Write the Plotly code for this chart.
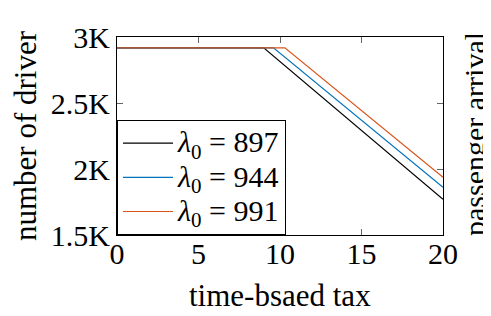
import plotly.graph_objects as go

x_break = [9.0, 9.6, 10.3]
x_end = 20
flat_level = 2918
end_values = [1771, 1862, 1937]
labels = ["897", "944", "991"]
colors = ["#000000", "#0072BD", "#D95319"]

y_ticks = [1500, 2000, 2500, 3000]
y_tick_text = ["1.5K", "2K", "2.5K", "3K"]
x_ticks = [0, 5, 10, 15, 20]

FONT = "Liberation Serif"

fig = go.Figure()
for xb, ye, lab, c in zip(x_break, end_values, labels, colors):
    fig.add_trace(go.Scatter(
        x=[0, xb, x_end], y=[flat_level, flat_level, ye],
        mode="lines", line=dict(color=c, width=1.2),
        name=f'<span style="font-size:30px"><i>λ</i><sub>0</sub> = {lab}</span>'))

axis_common = dict(showgrid=False, zeroline=False, showline=True, linecolor="black",
                   linewidth=1, mirror="ticks", ticks="inside", ticklen=6,
                   tickcolor="#666", automargin=False,
                   tickfont=dict(family=FONT, size=30, color="black"))

# page body adds an 8px offset, so margins are reduced accordingly
fig.update_layout(
    width=491, height=316,
    margin=dict(l=109, r=56, t=29, b=89),
    paper_bgcolor="white", plot_bgcolor="white",
    font=dict(family=FONT, color="black"),
    xaxis=dict(range=[0, 20], tickvals=x_ticks, ticklabelstandoff=-8, **axis_common),
    yaxis=dict(range=[1500, 3000], tickvals=y_ticks, ticktext=y_tick_text, **axis_common),
    legend=dict(x=0, y=0, xanchor="left", yanchor="bottom",
                bgcolor="white", bordercolor="black", borderwidth=1,
                font=dict(family=FONT, size=24), tracegroupgap=0, itemwidth=50),
    showlegend=True,
)
fig.add_annotation(text="time-bsaed tax", xref="paper", yref="paper",
                   x=0.5, y=0, yshift=-60, yanchor="middle", showarrow=False,
                   font=dict(family=FONT, size=31, color="black"))
fig.add_annotation(text="number of driver", xref="paper", yref="paper",
                   x=0, y=0.5, xshift=-92, xanchor="center", textangle=-90, showarrow=False,
                   font=dict(family=FONT, size=31, color="black"))
fig.add_annotation(text="passenger arrival", xref="paper", yref="paper",
                   x=1.0, y=0.5, yshift=2, xshift=31, xanchor="center", textangle=-90, showarrow=False,
                   font=dict(family=FONT, size=30, color="black"))

fig.write_html("out.html")
